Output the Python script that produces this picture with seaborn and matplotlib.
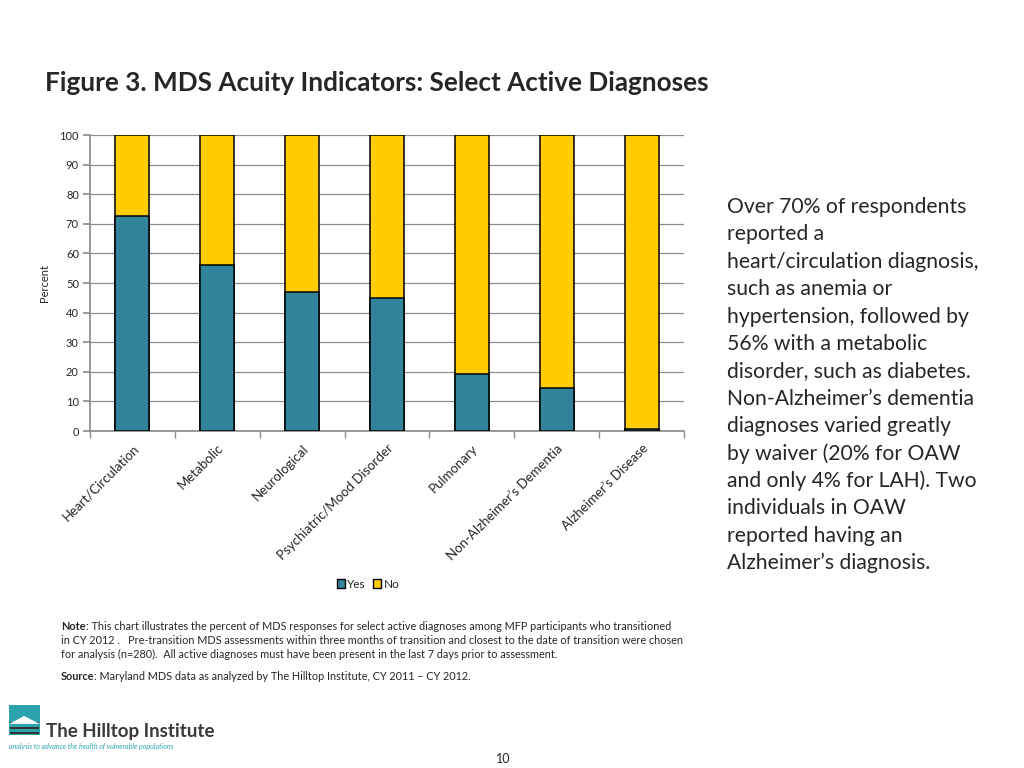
import matplotlib
matplotlib.use("Agg")
import matplotlib.pyplot as plt
import seaborn as sns
import pandas as pd
from matplotlib.patches import Patch, Rectangle, Polygon

categories = ["Heart/Circulation", "Metabolic", "Neurological", "Psychiatric/Mood Disorder",
              "Pulmonary", "Non-Alzheimer’s Dementia", "Alzheimer’s Disease"]
yes_values = [72.5, 56.0, 47.0, 45.0, 19.2, 14.6, 0.7]
no_values = [100 - v for v in yes_values]
y_ticks = list(range(0, 101, 10))

sns.set_theme(style="white")
plt.rcParams['font.family'] = ['Lato', 'DejaVu Sans']

TEAL = "#31849B"
YELLOW = "#FFCC00"

df = pd.DataFrame({"cat": categories, "yes": yes_values, "no": no_values})
df["total"] = df["yes"] + df["no"]

fig = plt.figure(figsize=(10.24, 7.68), dpi=100)
AX_L, AX_R = 90, 684
ax = fig.add_axes([AX_L/1024, 1-431/768, (AX_R-AX_L)/1024, (431-135)/768])

sns.barplot(data=df, x="cat", y="total", color=YELLOW, width=0.4, edgecolor="black",
            linewidth=1.1, ax=ax, order=categories, saturation=1, zorder=3)
sns.barplot(data=df, x="cat", y="yes", color=TEAL, width=0.4, edgecolor="black",
            linewidth=1.1, ax=ax, order=categories, saturation=1, zorder=4)

ax.set_ylim(0, 100)
ax.set_xlim(-0.5, len(categories) - 0.5)
ax.set_yticks(y_ticks)
ax.set_yticklabels([str(t) for t in y_ticks], fontsize=8)
ax.yaxis.grid(True, color="#8c8c8c", linewidth=0.9, zorder=0)
ax.set_axisbelow(True)
for s in ["top", "right"]:
    ax.spines[s].set_visible(False)
ax.spines["left"].set_color("#8c8c8c")
ax.spines["bottom"].set_color("#8c8c8c")
ax.tick_params(axis="y", which="both", left=True, length=5, color="#8c8c8c", pad=3)
ax.set_xlabel("")
ax.set_ylabel("Percent", fontsize=8, labelpad=2)
ax.yaxis.set_label_coords(-40/(AX_R-AX_L), 0.5)
ax.set_xticks(range(len(categories)))
ax.set_xticklabels(categories, rotation=45, ha="right", rotation_mode="anchor", fontsize=9.5)
ax.tick_params(axis="x", which="major", length=0, pad=8)
ax.set_xticks([i - 0.5 for i in range(len(categories) + 1)], minor=True)
ax.tick_params(axis="x", which="minor", bottom=True, length=5, color="#8c8c8c")

handles = [Patch(facecolor=TEAL, edgecolor="black", label="Yes"),
           Patch(facecolor=YELLOW, edgecolor="black", label="No")]
fig.legend(handles=handles, loc="center", bbox_to_anchor=(368/1024, 1-584/768), ncol=2,
           frameon=False, fontsize=8.5, handlelength=0.7, handleheight=0.7,
           handletextpad=0.2, columnspacing=0.6)

fig.text(45/1024, 1-83/768, "Figure 3. MDS Acuity Indicators: Select Active Diagnoses",
         fontsize=18.8, fontweight="bold", va="center", ha="left")

right_lines = ["Over 70% of respondents", "reported a", "heart/circulation diagnosis,",
               "such as anemia or", "hypertension, followed by", "56% with a metabolic",
               "disorder, such as diabetes.", "Non-Alzheimer’s dementia",
               "diagnoses varied greatly", "by waiver (20% for OAW", "and only 4% for LAH). Two",
               "individuals in OAW", "reported having an", "Alzheimer’s diagnosis."]
for i, line in enumerate(right_lines):
    fig.text(727/1024, 1-(207 + i*27.4)/768, line, fontsize=15.2, va="center", ha="left")

renderer = fig.canvas.get_renderer()


def bold_lead(x, y, bold, rest, fs):
    t = fig.text(x/1024, 1-y/768, bold, fontsize=fs, fontweight="bold", va="center", ha="left")
    w = t.get_window_extent(renderer=renderer).width
    fig.text((x + w)/1024, 1-y/768, rest, fontsize=fs, va="center", ha="left")


NFS = 7.8
bold_lead(61, 626, "Note", ": This chart illustrates the percent of MDS responses for select active diagnoses among MFP participants who transitioned", NFS)
fig.text(61/1024, 1-640/768, "in CY 2012 .   Pre-transition MDS assessments within three months of transition and closest to the date of transition were chosen",
         fontsize=NFS, va="center", ha="left")
fig.text(61/1024, 1-654/768, "for analysis (n=280).  All active diagnoses must have been present in the last 7 days prior to assessment.",
         fontsize=NFS, va="center", ha="left")
bold_lead(61, 677, "Source", ": Maryland MDS data as analyzed by The Hilltop Institute, CY 2011 – CY 2012.", NFS)

# logo
fig.patches.append(Rectangle((9/1024, 1-735/768), 31/1024, 30/768, transform=fig.transFigure,
                             facecolor="#2aa3ad", edgecolor="none"))
for k, yy in enumerate([722, 727, 732]):
    fig.patches.append(Rectangle((10/1024, 1-(yy+2)/768), 29/1024, 2.5/768, transform=fig.transFigure,
                                 facecolor="#333333", edgecolor="none"))
fig.patches.append(Polygon([(9/1024, 1-724/768), (24/1024, 1-716/768), (40/1024, 1-724/768)],
                           closed=True, transform=fig.transFigure, facecolor="white", edgecolor="none"))
fig.text(46/1024, 1-731/768, "The Hilltop Institute", fontsize=13.5, fontweight="bold",
         color="#3a3a3a", va="center", ha="left")
fig.text(9/1024, 1-746/768, "analysis to advance the health of vulnerable populations", fontsize=5,
         style="italic", color="#2aa3ad", va="center", ha="left")

fig.text(503/1024, 1-759/768, "10", fontsize=9, va="center", ha="center")

fig.savefig("out.png", dpi=100, facecolor="white")
